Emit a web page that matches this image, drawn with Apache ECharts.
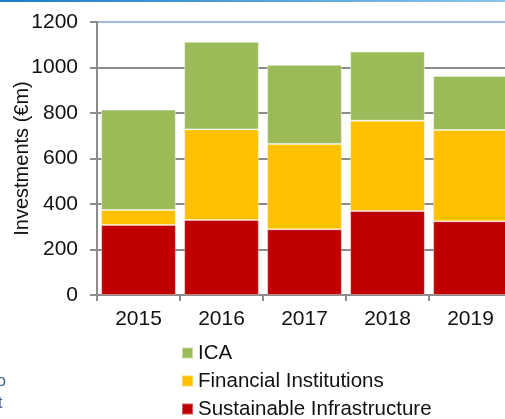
<!DOCTYPE html>
<html>
<head>
<meta charset="utf-8">
<script src="https://cdn.jsdelivr.net/npm/echarts@6/dist/echarts.min.js"></script>
<style>
html, body { margin: 0; padding: 0; background: #fff; }
#chart { width: 505px; height: 419px; }
</style>
</head>
<body>
<div id="chart"></div>
<script>
var years = ['2015', '2016', '2017', '2018', '2019'];
var sustainable = [308, 330, 289, 369, 324];
var financial = [66, 398, 375, 397, 401];
var ica = [441, 385, 348, 304, 238];

var myChart = echarts.init(document.getElementById('chart'));
var font = '"Liberation Sans", Arial, sans-serif';

var option = {
  animation: false,
  grid: { left: 97, right: -7, top: 22, bottom: 124, containLabel: false, outerBoundsMode: 'none' },
  legend: {
    orient: 'vertical',
    left: 181,
    top: 342,
    height: 90,
    padding: 0,
    itemWidth: 11,
    itemHeight: 11,
    itemGap: 6,
    icon: 'rect',
    textStyle: { fontFamily: font, fontSize: 20.5, color: '#111', lineHeight: 22 },
    data: ['ICA', 'Financial Institutions', 'Sustainable Infrastructure']
  },
  graphic: [
    { type: 'rect', left: 0, top: 0, shape: { width: 505, height: 2 },
      style: { fill: new echarts.graphic.LinearGradient(0, 0, 1, 0, [
        { offset: 0, color: '#1a7cc8' }, { offset: 1, color: '#8cc4ea' }]) } },
    { type: 'text', left: -3, top: 374, style: { text: 'o', fill: '#3d5d8c', font: '16px ' + font } },
    { type: 'text', left: -2, top: 396, style: { text: 't', fill: '#3d5d8c', font: '16px ' + font } }
  ],
  xAxis: {
    type: 'category',
    data: years,
    axisLine: { lineStyle: { color: '#8c8c8c', width: 2 } },
    axisTick: { show: true, length: 6, lineStyle: { color: '#8c8c8c', width: 2 } },
    axisLabel: { fontFamily: font, fontSize: 21, color: '#111', margin: 14 }
  },
  yAxis: {
    type: 'value',
    min: 0,
    max: 1200,
    interval: 200,
    name: 'Investments (€m)',
    nameLocation: 'middle',
    nameGap: 65,
    nameMoveOverlap: false,
    nameTextStyle: { fontFamily: font, fontSize: 20, color: '#111' },
    axisLine: { show: true, lineStyle: { color: '#8c8c8c', width: 2 } },
    axisTick: { show: true, length: 7, lineStyle: { color: '#8c8c8c', width: 2 } },
    axisLabel: { fontFamily: font, fontSize: 21, color: '#111', margin: 19, formatter: function (v) { return String(v); } },
    splitLine: { lineStyle: { color: ['#8c8c8c', '#8c8c8c', '#8c8c8c', '#8c8c8c', '#8c8c8c', '#8c8c8c', '#a3b9e0'], width: 2 } }
  },
  series: [
    { name: 'Sustainable Infrastructure', type: 'bar', stack: 'a', data: sustainable,
      barCategoryGap: '10%', itemStyle: { color: '#C00000', borderColor: 'rgba(255,255,255,0.35)', borderWidth: 1 } },
    { name: 'Financial Institutions', type: 'bar', stack: 'a', data: financial,
      itemStyle: { color: '#FFC000', borderColor: 'rgba(255,255,255,0.35)', borderWidth: 1 } },
    { name: 'ICA', type: 'bar', stack: 'a', data: ica,
      itemStyle: { color: '#9BBB59', borderColor: 'rgba(255,255,255,0.45)', borderWidth: 1 } }
  ]
};
myChart.setOption(option);
</script>
</body>
</html>
